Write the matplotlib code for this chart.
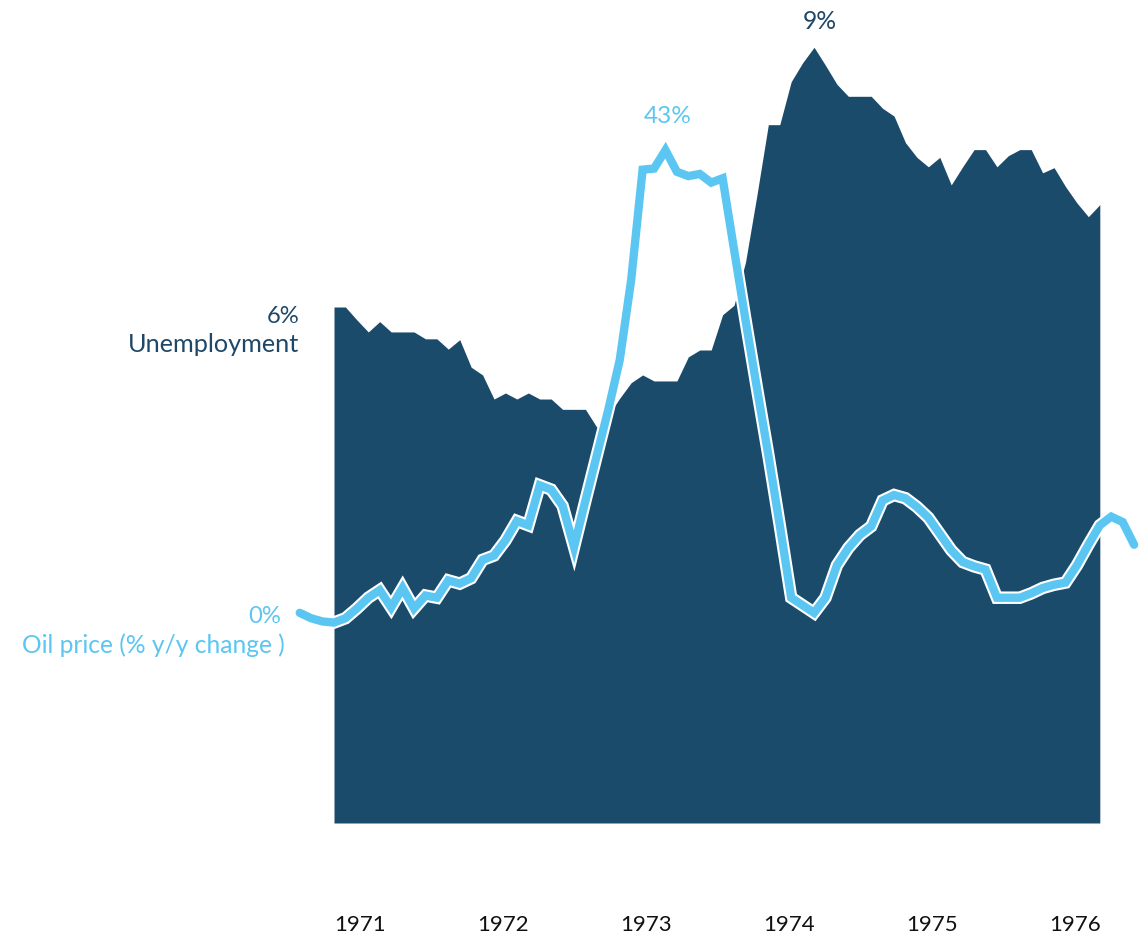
import numpy as np
import matplotlib
matplotlib.use("Agg")
import matplotlib.pyplot as plt
import matplotlib.patheffects as pe
from matplotlib import font_manager

# ---------------- data ----------------
# monthly index (0 = first month of unemployment series)
unemp_month = np.arange(0, 68)
unemployment = [6.00, 6.00, 5.85, 5.71, 5.83, 5.71, 5.71, 5.71, 5.63, 5.63,
                5.51, 5.62, 5.30, 5.21, 4.93, 5.00, 4.93, 5.00, 4.93, 4.93,
                4.81, 4.81, 4.81, 4.60, 4.74, 4.94, 5.12, 5.21, 5.14, 5.14,
                5.14, 5.42, 5.50, 5.50, 5.91, 6.02, 6.52, 7.30, 8.12, 8.12,
                8.62, 8.84, 9.02, 8.81, 8.59, 8.45, 8.45, 8.45, 8.31, 8.22,
                7.91, 7.74, 7.63, 7.74, 7.42, 7.63, 7.83, 7.83, 7.63, 7.76,
                7.83, 7.83, 7.56, 7.62, 7.40, 7.21, 7.05, 7.19]

oil_month = np.arange(-3, 71)
oil_change = [0.2, -0.3, -0.6, -0.7, -0.3, 0.6, 1.6, 2.3, 0.7, 2.5,
              0.6, 1.8, 1.6, 3.2, 2.9, 3.4, 5.1, 5.5, 6.9, 8.7,
              8.3, 12.0, 11.6, 10.1, 6.3, 10.6, 14.8, 19.0, 23.6, 31.0,
              41.2, 41.3, 43.0, 41.0, 40.6, 40.8, 40.0, 40.4, 33.8, 27.3,
              21.0, 14.8, 8.3, 1.6, 0.9, 0.2, 1.6, 4.6, 6.2, 7.4,
              8.2, 10.6, 11.1, 10.8, 10.0, 9.0, 7.5, 6.0, 4.9, 4.5,
              4.2, 1.6, 1.6, 1.6, 2.0, 2.5, 2.8, 3.0, 4.6, 6.5,
              8.3, 9.1, 8.6, 6.5]

year_labels = ["1971", "1972", "1973", "1974", "1975", "1976"]
year_pos = [2.27, 14.79, 27.30, 39.81, 52.32, 64.83]   # in month-index units

NAVY = "#1b4b6b"
NAVY_TXT = "#1f4868"
BLUE = "#5bc6f1"

# ---------------- figure ----------------
W, H = 1142, 935
fig = plt.figure(figsize=(W / 100, H / 100), dpi=100)
fig.patch.set_facecolor("white")
ax = fig.add_axes([0, 0, 1, 1])
ax.axis("off")

# x: pixel = 334 + 11.43 * month
step = 11.43
x0 = 334
ax.set_xlim(-x0 / step, (W - x0) / step)
# unemployment: pixel_from_top = 823 - 86.0 * v
ax.set_ylim(-(H - 823) / 86.0, 823 / 86.0)

ax.fill_between(unemp_month, 0, unemployment, color=NAVY, lw=0, zorder=1)

ax2 = ax.twinx()
ax2.axis("off")
ax2.set_xlim(ax.get_xlim())
# oil: pixel_from_top = 615 - 10.81 * v
ax2.set_ylim(-(H - 615) / 10.81, 615 / 10.81)
ax2.plot(oil_month, oil_change, color=BLUE, lw=6.0, solid_joinstyle="miter",
         solid_capstyle="round", zorder=3,
         path_effects=[pe.Stroke(linewidth=9.0, foreground="white",
                                 joinstyle="miter", capstyle="round"),
                       pe.Normal()])

renderer = fig.canvas.get_renderer()


def px(x, y):
    return x / W, 1 - y / H


def label(x, y, s, target_w, ha, color, family, size=16, weight="normal"):
    t = fig.text(*px(x, y), s, ha=ha, va="baseline", color=color,
                 fontsize=size, family=family, fontweight=weight)
    if target_w:
        bb = t.get_window_extent(renderer)
        t.set_fontsize(size * target_w / bb.width)
    return t


SANS = ["Lato", "DejaVu Sans"]
label(299, 323, "6%", 33, "right", NAVY_TXT, SANS)
label(299, 352, "Unemployment", 172, "right", NAVY_TXT, SANS)
label(281, 623, "0%", 33, "right", BLUE, SANS)
label(285, 653, "Oil price (% y/y change )", 265, "right", BLUE, SANS)
label(668, 123, "43%", 48, "center", BLUE, SANS)
label(820, 29, "9%", 34, "center", NAVY_TXT, SANS)

names = {f.name for f in font_manager.fontManager.ttflist}
if "Liberation Sans Narrow" in names:
    yfam, ysize = ["Liberation Sans Narrow", "DejaVu Sans"], 19
else:
    yfam, ysize = ["Lato", "DejaVu Sans"], 16
for pos, lab in zip(year_pos, year_labels):
    xp = x0 + pos * step
    label(xp, 931, lab, None, "center", "#111111", yfam, size=ysize)

fig.savefig("out.png", dpi=100, facecolor="white")
